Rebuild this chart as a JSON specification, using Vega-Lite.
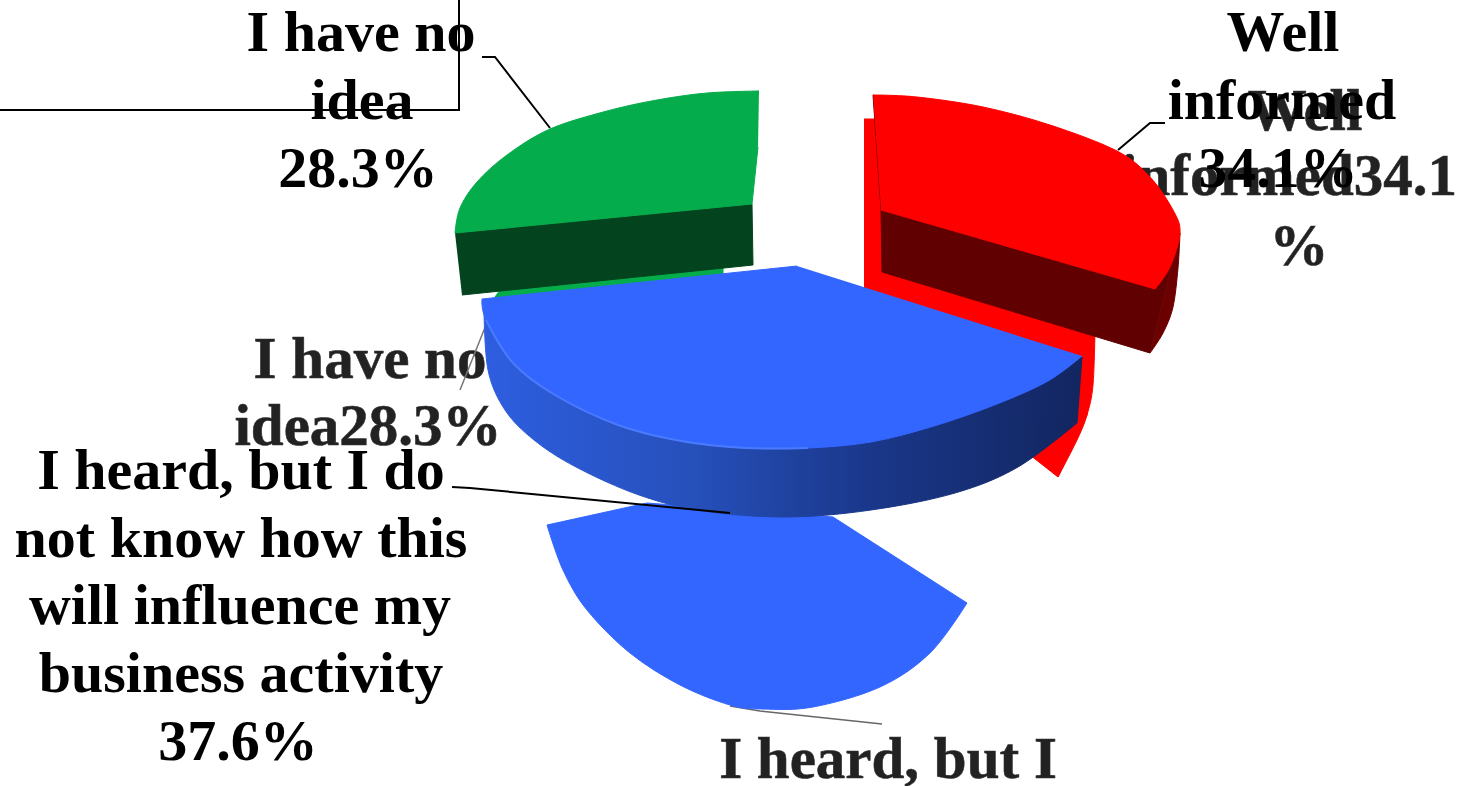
{"$schema":"https://vega.github.io/schema/vega-lite/v6.json","width":1466,"height":786,"padding":0,"autosize":{"type":"none"},"background":"white","config":{"view":{"stroke":null}},
"datasets":{
"o":[
{"p":"redBack","s":1,"x":864,"y":119},{"p":"redBack","s":2,"x":880,"y":119},{"p":"redBack","s":3,"x":882,"y":270},{"p":"redBack","s":4,"x":1095,"y":330},{"p":"redBack","s":5,"x":1087,"y":415},{"p":"redBack","s":6,"x":1058,"y":477},{"p":"redBack","s":7,"x":1030,"y":455},{"p":"redBack","s":8,"x":864,"y":290},
{"p":"redBackArc","s":1,"x":1095,"y":330},{"p":"redBackArc","s":2,"x":1093,"y":385},{"p":"redBackArc","s":3,"x":1087,"y":415},{"p":"redBackArc","s":4,"x":1077,"y":440},{"p":"redBackArc","s":5,"x":1058,"y":477},
{"p":"greenStrip","s":1,"x":495,"y":297},{"p":"greenStrip","s":2,"x":500,"y":290},{"p":"greenStrip","s":3,"x":723,"y":268},{"p":"greenStrip","s":4,"x":723,"y":285},{"p":"greenStrip","s":5,"x":495,"y":305},
{"p":"greenWall","s":1,"x":455,"y":233},{"p":"greenWall","s":2,"x":752,"y":204},{"p":"greenWall","s":3,"x":753,"y":265},{"p":"greenWall","s":4,"x":462,"y":295},
{"p":"greenArc","s":1,"x":759,"y":91},{"p":"greenArc","s":2,"x":707,"y":93},{"p":"greenArc","s":3,"x":657,"y":100},{"p":"greenArc","s":4,"x":607,"y":111},{"p":"greenArc","s":5,"x":550,"y":129},{"p":"greenArc","s":6,"x":507,"y":155},{"p":"greenArc","s":7,"x":477,"y":182},{"p":"greenArc","s":8,"x":460,"y":208},{"p":"greenArc","s":9,"x":455,"y":233},
{"p":"greenWedge","s":1,"x":759,"y":91},{"p":"greenWedge","s":2,"x":550,"y":129},{"p":"greenWedge","s":3,"x":455,"y":233},{"p":"greenWedge","s":4,"x":752,"y":204},{"p":"greenWedge","s":5,"x":758,"y":147},
{"p":"blueLowArc","s":1,"x":967,"y":603},{"p":"blueLowArc","s":2,"x":930,"y":653},{"p":"blueLowArc","s":3,"x":880,"y":687},{"p":"blueLowArc","s":4,"x":813,"y":707},{"p":"blueLowArc","s":5,"x":763,"y":709},{"p":"blueLowArc","s":6,"x":730,"y":705},{"p":"blueLowArc","s":7,"x":680,"y":685},{"p":"blueLowArc","s":8,"x":630,"y":653},{"p":"blueLowArc","s":9,"x":587,"y":610},{"p":"blueLowArc","s":10,"x":563,"y":570},{"p":"blueLowArc","s":11,"x":547,"y":525},
{"p":"blueLowWedge","s":1,"x":547,"y":525},{"p":"blueLowWedge","s":2,"x":647,"y":503},{"p":"blueLowWedge","s":3,"x":833,"y":517},{"p":"blueLowWedge","s":4,"x":967,"y":603},{"p":"blueLowWedge","s":5,"x":763,"y":709},
{"p":"blueWallArc","s":1,"x":484,"y":310},{"p":"blueWallArc","s":2,"x":488,"y":370},{"p":"blueWallArc","s":3,"x":505,"y":410},{"p":"blueWallArc","s":4,"x":534,"y":440},{"p":"blueWallArc","s":5,"x":576,"y":467},{"p":"blueWallArc","s":6,"x":639,"y":495},{"p":"blueWallArc","s":7,"x":703,"y":511},{"p":"blueWallArc","s":8,"x":787,"y":517},{"p":"blueWallArc","s":9,"x":871,"y":510},{"p":"blueWallArc","s":10,"x":955,"y":493},{"p":"blueWallArc","s":11,"x":1018,"y":467},{"p":"blueWallArc","s":12,"x":1077,"y":423},
{"p":"blueWallEnd","s":1,"x":960,"y":412},{"p":"blueWallEnd","s":2,"x":1082,"y":357},{"p":"blueWallEnd","s":3,"x":1077,"y":423},
{"p":"blueTopArc","s":1,"x":482,"y":299},{"p":"blueTopArc","s":2,"x":486,"y":320},{"p":"blueTopArc","s":3,"x":513,"y":363},{"p":"blueTopArc","s":4,"x":555,"y":395},{"p":"blueTopArc","s":5,"x":618,"y":425},{"p":"blueTopArc","s":6,"x":681,"y":441},{"p":"blueTopArc","s":7,"x":745,"y":448},{"p":"blueTopArc","s":8,"x":808,"y":448},{"p":"blueTopArc","s":9,"x":871,"y":442},{"p":"blueTopArc","s":10,"x":934,"y":426},{"p":"blueTopArc","s":11,"x":997,"y":404},{"p":"blueTopArc","s":12,"x":1048,"y":381},{"p":"blueTopArc","s":13,"x":1082,"y":356},
{"p":"blueTopWedge","s":1,"x":797,"y":266},{"p":"blueTopWedge","s":2,"x":482,"y":299},{"p":"blueTopWedge","s":3,"x":745,"y":448},{"p":"blueTopWedge","s":4,"x":1082,"y":356},
{"p":"redSide","s":1,"x":873,"y":95},{"p":"redSide","s":2,"x":881,"y":210},{"p":"redSide","s":3,"x":882,"y":272},{"p":"redSide","s":4,"x":1150,"y":353},{"p":"redSide","s":5,"x":1180,"y":233},
{"p":"redSideArc","s":1,"x":1180,"y":233},{"p":"redSideArc","s":2,"x":1178,"y":268},{"p":"redSideArc","s":3,"x":1173,"y":307},{"p":"redSideArc","s":4,"x":1163,"y":333},{"p":"redSideArc","s":5,"x":1150,"y":353},
{"p":"redArc","s":1,"x":873,"y":95},{"p":"redArc","s":2,"x":917,"y":97},{"p":"redArc","s":3,"x":983,"y":107},{"p":"redArc","s":4,"x":1050,"y":125},{"p":"redArc","s":5,"x":1117,"y":151},{"p":"redArc","s":6,"x":1150,"y":177},{"p":"redArc","s":7,"x":1173,"y":210},{"p":"redArc","s":8,"x":1180,"y":233},{"p":"redArc","s":9,"x":1170,"y":267},{"p":"redArc","s":10,"x":1155,"y":289},
{"p":"redWedge","s":1,"x":873,"y":95},{"p":"redWedge","s":2,"x":1117,"y":151},{"p":"redWedge","s":3,"x":1155,"y":289},{"p":"redWedge","s":4,"x":881,"y":210}
],
"e":[
{"p":"rim","s":1,"x":486,"y":320},{"p":"rim","s":2,"x":513,"y":363},{"p":"rim","s":3,"x":555,"y":395},{"p":"rim","s":4,"x":618,"y":425},{"p":"rim","s":5,"x":681,"y":441},{"p":"rim","s":6,"x":745,"y":448},{"p":"rim","s":7,"x":808,"y":448},
{"p":"grayA","s":1,"x":486,"y":325},{"p":"grayA","s":2,"x":460,"y":390},
{"p":"grayB","s":1,"x":730,"y":706},{"p":"grayB","s":2,"x":760,"y":711},{"p":"grayB","s":3,"x":882,"y":724},
{"p":"frame","s":1,"x":0,"y":110},{"p":"frame","s":2,"x":459,"y":110},{"p":"frame","s":3,"x":459,"y":0},
{"p":"leadGreen","s":1,"x":482,"y":57},{"p":"leadGreen","s":2,"x":495,"y":57},{"p":"leadGreen","s":3,"x":550,"y":128},
{"p":"leadRed","s":1,"x":1165,"y":123},{"p":"leadRed","s":2,"x":1150,"y":123},{"p":"leadRed","s":3,"x":1118,"y":150},
{"p":"leadBlue","s":1,"x":452,"y":487},{"p":"leadBlue","s":2,"x":470,"y":488},{"p":"leadBlue","s":3,"x":730,"y":513}
],
"t":[
{"g":"back","s":1,"t":"Well","x":1305,"y":130},{"g":"back","s":2,"t":"informed34.1","x":1289,"y":195},{"g":"back","s":3,"t":"%","x":1299,"y":265},
{"g":"back","s":4,"t":"I have no","x":370,"y":378},{"g":"back","s":5,"t":"idea28.3%","x":368,"y":445},{"g":"back","s":6,"t":"I heard, but I","x":888,"y":778},
{"g":"front","s":1,"t":"I have no","x":361,"y":51},{"g":"front","s":2,"t":"idea","x":362,"y":119},{"g":"front","s":3,"t":"28.3%","x":358,"y":187},
{"g":"front","s":4,"t":"Well","x":1283,"y":51},{"g":"front","s":5,"t":"informed","x":1282,"y":119},{"g":"front","s":6,"t":"34.1%","x":1278,"y":187},
{"g":"front","s":7,"t":"I heard, but I do","x":241,"y":489},{"g":"front","s":8,"t":"not know how this","x":241,"y":557},{"g":"front","s":9,"t":"will influence my","x":240,"y":624},{"g":"front","s":10,"t":"business activity","x":241,"y":692},{"g":"front","s":11,"t":"37.6%","x":238,"y":760}
]},
"encoding":{"x":{"field":"x","type":"quantitative","axis":null,"scale":{"domain":[0,1466],"range":[0,1466]}},"y":{"field":"y","type":"quantitative","axis":null,"scale":{"domain":[0,786],"range":[0,786]}},"order":{"field":"s","type":"quantitative"}},
"layer":[
{"data":{"name":"t"},"transform":[{"filter":"datum.g=='back'"}],"mark":{"type":"text","font":"Liberation Serif","fontWeight":"bold","fontSize":59,"align":"center","baseline":"alphabetic","fill":"#222222","stroke":"#333333","strokeWidth":0.6},"encoding":{"text":{"field":"t"}}},
{"data":{"name":"e"},"transform":[{"filter":"datum.p=='grayA'"}],"mark":{"type":"line","stroke":"#777","strokeWidth":1.5}},
{"data":{"name":"e"},"transform":[{"filter":"datum.p=='grayB'"}],"mark":{"type":"line","stroke":"#666","strokeWidth":1.5}},
{"data":{"name":"o"},"transform":[{"filter":"datum.p=='redBack'"}],"mark":{"type":"line","fill":"#ff0000","stroke":"#ff0000","strokeWidth":1}},
{"data":{"name":"o"},"transform":[{"filter":"datum.p=='redBackArc'"}],"mark":{"type":"line","interpolate":"cardinal","fill":"#ff0000","stroke":"#ff0000","strokeWidth":1}},
{"data":{"name":"o"},"transform":[{"filter":"datum.p=='greenStrip'"}],"mark":{"type":"line","fill":"#05ac4c","stroke":"#05ac4c","strokeWidth":1}},
{"data":{"name":"o"},"transform":[{"filter":"datum.p=='greenWall'"}],"mark":{"type":"line","fill":"#03431d","stroke":"#03431d","strokeWidth":1}},
{"data":{"name":"o"},"transform":[{"filter":"datum.p=='greenArc'"}],"mark":{"type":"line","interpolate":"cardinal","fill":"#05ac4c","stroke":"#05ac4c","strokeWidth":1}},
{"data":{"name":"o"},"transform":[{"filter":"datum.p=='greenWedge'"}],"mark":{"type":"line","fill":"#05ac4c","stroke":"#05ac4c","strokeWidth":1}},
{"data":{"name":"o"},"transform":[{"filter":"datum.p=='blueLowArc'"}],"mark":{"type":"line","interpolate":"cardinal","fill":"#3366ff","stroke":"#3366ff","strokeWidth":1}},
{"data":{"name":"o"},"transform":[{"filter":"datum.p=='blueLowWedge'"}],"mark":{"type":"line","fill":"#3366ff","stroke":"#3366ff","strokeWidth":1}},
{"data":{"name":"o"},"transform":[{"filter":"datum.p=='blueWallArc'"}],"mark":{"type":"line","interpolate":"cardinal","strokeWidth":1,"stroke":{"gradient":"linear","x1":0,"y1":0,"x2":1,"y2":0,"stops":[{"offset":0,"color":"#2e5ee0"},{"offset":0.35,"color":"#2650bb"},{"offset":0.65,"color":"#1a378a"},{"offset":1,"color":"#122660"}]},"fill":{"gradient":"linear","x1":0,"y1":0,"x2":1,"y2":0,"stops":[{"offset":0,"color":"#2e5ee0"},{"offset":0.35,"color":"#2650bb"},{"offset":0.65,"color":"#1a378a"},{"offset":1,"color":"#122660"}]}}},
{"data":{"name":"o"},"transform":[{"filter":"datum.p=='blueWallEnd'"}],"mark":{"type":"line","stroke":"#122660","strokeWidth":1,"fill":{"gradient":"linear","x1":0,"y1":0,"x2":1,"y2":0,"stops":[{"offset":0,"color":"#172f78"},{"offset":1,"color":"#122660"}]}}},
{"data":{"name":"o"},"transform":[{"filter":"datum.p=='blueTopArc'"}],"mark":{"type":"line","interpolate":"cardinal","fill":"#3366ff","stroke":"#3366ff","strokeWidth":1}},
{"data":{"name":"o"},"transform":[{"filter":"datum.p=='blueTopWedge'"}],"mark":{"type":"line","fill":"#3366ff","stroke":"#3366ff","strokeWidth":1}},
{"data":{"name":"e"},"transform":[{"filter":"datum.p=='rim'"}],"mark":{"type":"line","stroke":"#4a7bff","strokeWidth":2,"interpolate":"cardinal"}},
{"data":{"name":"o"},"transform":[{"filter":"datum.p=='redSide'"}],"mark":{"type":"line","fill":"#600000","stroke":"#600000","strokeWidth":1}},
{"data":{"name":"o"},"transform":[{"filter":"datum.p=='redSideArc'"}],"mark":{"type":"line","interpolate":"cardinal","fill":"#6c0000","stroke":"#6c0000","strokeWidth":1}},
{"data":{"name":"o"},"transform":[{"filter":"datum.p=='redArc'"}],"mark":{"type":"line","interpolate":"cardinal","fill":"#ff0000","stroke":"#ff0000","strokeWidth":1}},
{"data":{"name":"o"},"transform":[{"filter":"datum.p=='redWedge'"}],"mark":{"type":"line","fill":"#ff0000","stroke":"#ff0000","strokeWidth":1}},
{"data":{"name":"e"},"transform":[{"filter":"datum.p=='frame'"}],"mark":{"type":"line","stroke":"#000","strokeWidth":2}},
{"data":{"name":"e"},"transform":[{"filter":"datum.p=='leadGreen'"}],"mark":{"type":"line","stroke":"#000","strokeWidth":2}},
{"data":{"name":"e"},"transform":[{"filter":"datum.p=='leadRed'"}],"mark":{"type":"line","stroke":"#000","strokeWidth":2}},
{"data":{"name":"e"},"transform":[{"filter":"datum.p=='leadBlue'"}],"mark":{"type":"line","stroke":"#000","strokeWidth":2}},
{"data":{"name":"t"},"transform":[{"filter":"datum.g=='front'"}],"mark":{"type":"text","font":"Liberation Serif","fontWeight":"bold","fontSize":58,"align":"center","baseline":"alphabetic","fill":"#000"},"encoding":{"text":{"field":"t"}}}
]}
